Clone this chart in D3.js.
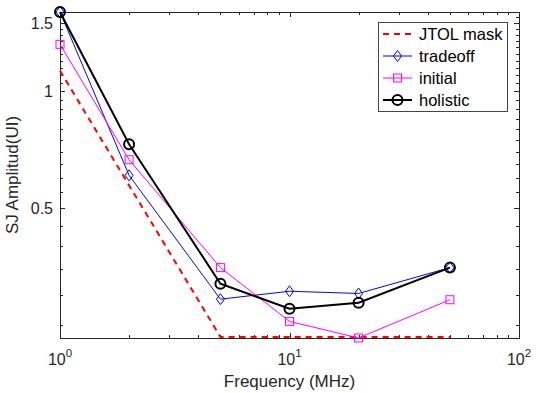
<!DOCTYPE html>
<html>
<head>
<meta charset="utf-8">
<script src="https://cdn.jsdelivr.net/npm/d3@7"></script>
<style>
  body { margin: 0; background: #fff; }
  text { font-family: Arial, "Liberation Sans", sans-serif; fill: #262626; }
</style>
</head>
<body>
<div id="chart"></div>
<script>
// data
var freq = [1, 2, 5, 10, 20, 50];
var maskFreq = [1, 5, 50];
var maskVals = [1.13, 0.2335, 0.2335];
var tradeoff = [1.6, 0.608, 0.292, 0.306, 0.302, 0.352];
var initial = [1.321, 0.667, 0.352, 0.256, 0.232, 0.291];
var holistic = [1.6, 0.731, 0.320, 0.276, 0.286, 0.352];
var xTicks = [1, 10, 100];
var yTicks = [0.5, 1, 1.5];
var seriesNames = ["JTOL mask", "tradeoff", "initial", "holistic"];

var width = 538, height = 393;
var margin = {top: 12, right: 19, bottom: 55, left: 60};
var w = width - margin.left - margin.right,
    h = height - margin.top - margin.bottom;

var svg = d3.select("#chart").append("svg").attr("width", width).attr("height", height);
var g = svg.append("g").attr("transform", "translate(" + margin.left + "," + margin.top + ")");

var x = d3.scaleLog().domain([1, 100]).range([0, w]);
var y = d3.scaleLog().domain([0.232, 1.6]).range([h, 0]);

// minor ticks
var xMinor = [];
[1, 10].forEach(function(b){ for (var k = 2; k <= 9; k++) xMinor.push(b * k); });
var yMinor = d3.range(5, 32).map(function(k){ return k * 0.05; })
  .filter(function(v){ return yTicks.indexOf(+v.toFixed(2)) < 0; });

var axisColor = "#262626";
var ticks = g.append("g").attr("stroke", axisColor).attr("stroke-width", 1);

function xTick(v, len) {
  var px = Math.round(x(v)) + 0.5;
  ticks.append("line").attr("x1", px).attr("x2", px).attr("y1", h).attr("y2", h - len);
  ticks.append("line").attr("x1", px).attr("x2", px).attr("y1", 0).attr("y2", len);
}
function yTick(v, len) {
  var py = Math.round(y(v)) + 0.5;
  ticks.append("line").attr("x1", 0).attr("x2", len).attr("y1", py).attr("y2", py);
  ticks.append("line").attr("x1", w).attr("x2", w - len).attr("y1", py).attr("y2", py);
}
xMinor.forEach(function(v){ xTick(v, 3); });
xTicks.forEach(function(v){ xTick(v, 5); });
yMinor.forEach(function(v){ yTick(v, 3); });
yTicks.forEach(function(v){ yTick(v, 5); });

// frame
g.append("rect").attr("x", 0.5).attr("y", 0.5).attr("width", w).attr("height", h)
  .attr("fill", "none").attr("stroke", axisColor).attr("stroke-width", 1);

// tick labels
var xl = g.append("g");
xTicks.forEach(function(v){
  var t = xl.append("text").attr("x", x(v)).attr("y", h + 27)
    .attr("text-anchor", "middle").style("font-size", "16px");
  t.append("tspan").text("10");
  t.append("tspan").attr("dy", -8).style("font-size", "11.5px").text(Math.round(Math.log10(v)));
});
g.selectAll(".ylab").data(yTicks).enter().append("text")
  .attr("x", -7).attr("y", function(d){ return y(d); }).attr("dy", "0.36em")
  .attr("text-anchor", "end").style("font-size", "16px")
  .text(function(d){ return d; });

// axis labels
g.append("text").attr("x", w / 2).attr("y", h + 49).attr("text-anchor", "middle")
  .style("font-size", "17px").text("Frequency (MHz)");
g.append("text").attr("transform", "translate(" + (-42) + "," + (h / 2) + ") rotate(-90)")
  .attr("text-anchor", "middle").style("font-size", "17px").text("SJ Amplitud(UI)");

// lines
var line = d3.line().x(function(d){ return x(d[0]); }).y(function(d){ return y(d[1]); });
var plot = g.append("g");

function pairs(xs, ys) { return xs.map(function(v, i){ return [v, ys[i]]; }); }

var styles = [
  {name: seriesNames[0], data: pairs(maskFreq, maskVals), color: "#ff0000", width: 2, dash: "6,5", marker: null},
  {name: seriesNames[1], data: pairs(freq, tradeoff), color: "#0000ff", width: 1, dash: null, marker: "diamond"},
  {name: seriesNames[2], data: pairs(freq, initial), color: "#ff00ff", width: 1, dash: null, marker: "square"},
  {name: seriesNames[3], data: pairs(freq, holistic), color: "#000000", width: 2, dash: null, marker: "circle"}
];

function drawMarker(sel, type, color, cx, cy) {
  if (type === "circle") {
    sel.append("circle").attr("cx", cx).attr("cy", cy).attr("r", 5)
      .attr("fill", "none").attr("stroke", color).attr("stroke-width", 2);
  } else if (type === "square") {
    sel.append("rect").attr("x", cx - 4).attr("y", cy - 4).attr("width", 8).attr("height", 8)
      .attr("fill", "none").attr("stroke", color).attr("stroke-width", 1);
  } else if (type === "diamond") {
    sel.append("path").attr("d", "M" + cx + "," + (cy - 5.5) + "L" + (cx + 4) + "," + cy +
      "L" + cx + "," + (cy + 5.5) + "L" + (cx - 4) + "," + cy + "Z")
      .attr("fill", "none").attr("stroke", color).attr("stroke-width", 1);
  }
}

styles.forEach(function(s){
  plot.append("path").datum(s.data).attr("d", line)
    .attr("fill", "none").attr("stroke", s.color).attr("stroke-width", s.width)
    .attr("stroke-dasharray", s.dash);
  if (s.marker) {
    s.data.forEach(function(d){ drawMarker(plot, s.marker, s.color, x(d[0]), y(d[1])); });
  }
});

// legend
var lg = svg.append("g").attr("transform", "translate(378,22)");
lg.append("rect").attr("x", 0.5).attr("y", 0.5).attr("width", 129).attr("height", 89)
  .attr("fill", "#fff").attr("stroke", "#444").attr("stroke-width", 1);
styles.forEach(function(s, i){
  var ly = 12 + i * 22;
  lg.append("line").attr("x1", 5).attr("x2", 34).attr("y1", ly).attr("y2", ly)
    .attr("stroke", s.color).attr("stroke-width", s.width).attr("stroke-dasharray", s.dash);
  if (s.marker) drawMarker(lg, s.marker, s.color, 19.5, ly);
  lg.append("text").attr("x", 41).attr("y", ly).attr("dy", "0.36em")
    .style("font-size", "16.5px").style("fill", "#000").text(s.name);
});
</script>
</body>
</html>
